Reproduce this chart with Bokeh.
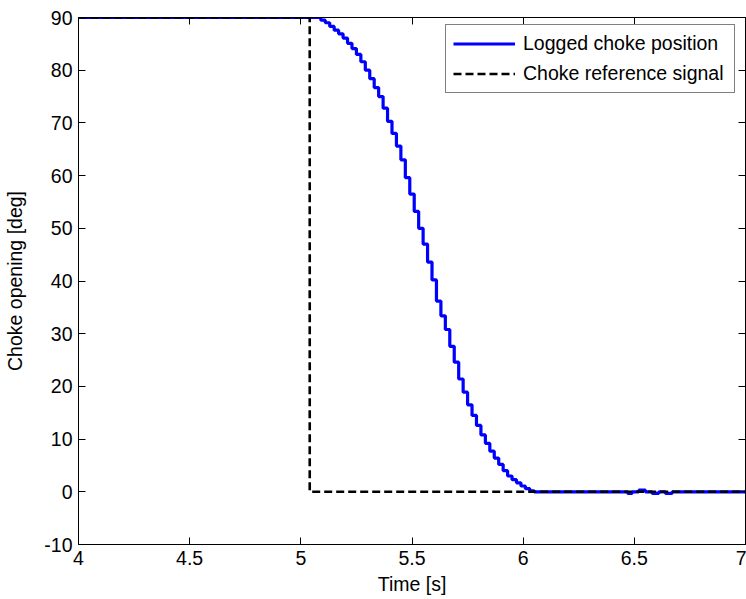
from bokeh.plotting import figure
from bokeh.models import Range1d, FixedTicker, LinearAxis, Legend, LegendItem
from bokeh.embed import file_html
from bokeh.resources import INLINE

# ---- data ----
ref_time = [4.0, 5.04, 5.04, 7.0]
ref_opening = [90, 90, 0, 0]

log_time = [4.00, 5.06, 5.08, 5.10, 5.12, 5.14, 5.16, 5.18, 5.20, 5.22, 5.24,
            5.26, 5.28, 5.30, 5.32, 5.34, 5.36, 5.38, 5.40, 5.42, 5.44,
            5.46, 5.48, 5.50, 5.52, 5.54, 5.56, 5.58, 5.60, 5.62, 5.64,
            5.66, 5.68, 5.70, 5.72, 5.74, 5.76, 5.78, 5.80, 5.82, 5.84,
            5.86, 5.88, 5.90, 5.92, 5.94, 5.96, 5.98, 6.00, 6.02, 6.04,
            6.06, 6.46, 6.48, 6.50, 6.54, 6.56, 6.60, 6.62, 6.66, 6.68, 7.00]
log_opening = [90.0, 90.0, 90.0, 89.5, 89.0, 88.3, 87.6, 86.9, 86.1, 85.1, 84.1,
               83.0, 81.6, 80.0, 78.4, 76.7, 75.0, 72.8, 70.3, 68.0, 65.6,
               63.0, 59.6, 56.5, 53.2, 50.0, 47.0, 43.6, 40.2, 36.2, 33.4,
               30.8, 27.6, 24.6, 21.4, 18.9, 16.5, 14.5, 12.6, 10.8, 9.2,
               7.7, 6.4, 5.2, 4.0, 3.0, 2.3, 1.7, 1.1, 0.6, 0.2,
               0.0, 0.0, -0.3, 0.0, 0.3, 0.0, -0.3, 0.0, -0.3, 0.0, 0.0]

x_ticks = [4, 4.5, 5, 5.5, 6, 6.5, 7]
x_tick_labels = ["4", "4.5", "5", "5.5", "6", "6.5", "7"]
y_ticks = [-10, 0, 10, 20, 30, 40, 50, 60, 70, 80, 90]
y_tick_labels = ["-10", "0", "10", "20", "30", "40", "50", "60", "70", "80", "90"]

series_names = ["Logged choke position", "Choke reference signal"]
x_label = "Time [s]"
y_label = "Choke opening [deg]"

FONT = "Liberation Sans"
FS = "19.5px"

p = figure(width=746, height=599, x_range=Range1d(4, 7), y_range=Range1d(-10, 90),
           output_backend="svg", toolbar_location=None,
           min_border_left=78, min_border_right=1, min_border_top=17, min_border_bottom=55)
p.background_fill_color = "white"
p.border_fill_color = "white"
p.outline_line_color = "black"
p.outline_line_width = 1
p.xgrid.visible = False
p.ygrid.visible = False

blue = p.step(log_time, log_opening, mode="center", line_color="#0000FF", line_width=3.2)
dash = p.line(ref_time, ref_opening, line_color="black", line_width=2.6, line_dash="8 4")


def style_axis(ax, ticks, labels):
    ax.ticker = FixedTicker(ticks=ticks)
    ax.major_label_overrides = {t: l for t, l in zip(ticks, labels)}
    ax.major_tick_in = 7
    ax.major_tick_out = 0
    ax.minor_tick_in = 0
    ax.minor_tick_out = 0
    ax.axis_line_color = "black"
    ax.major_tick_line_color = "black"
    ax.major_label_text_font = FONT
    ax.major_label_text_color = "black"
    ax.major_label_text_font_size = FS
    ax.major_label_standoff = 6
    ax.axis_label_text_font = FONT
    ax.axis_label_text_font_size = FS
    ax.axis_label_text_font_style = "normal"
    ax.axis_label_text_color = "black"


def mirror_axis(ticks):
    # tick marks only (as minor ticks, so no labels are drawn)
    ax = LinearAxis(ticker=FixedTicker(ticks=[], minor_ticks=ticks))
    ax.minor_tick_in = 7
    ax.minor_tick_out = 0
    ax.major_tick_in = 0
    ax.major_tick_out = 0
    ax.minor_tick_line_color = "black"
    ax.axis_line_color = "black"
    ax.major_label_standoff = 0
    return ax


style_axis(p.xaxis[0], x_ticks, x_tick_labels)
style_axis(p.yaxis[0], y_ticks, y_tick_labels)
p.xaxis[0].axis_label = x_label
p.yaxis[0].axis_label = y_label
p.xaxis[0].axis_label_standoff = 5
p.yaxis[0].axis_label_standoff = 15

p.add_layout(mirror_axis(x_ticks), "above")
p.add_layout(mirror_axis(y_ticks), "right")

legend = Legend(items=[LegendItem(label=series_names[0], renderers=[blue]),
                       LegendItem(label=series_names[1], renderers=[dash])],
                location=(367, 451))
legend.label_text_font = FONT
legend.label_text_font_size = FS
legend.label_text_color = "black"
legend.glyph_width = 62
legend.glyph_height = 21
legend.label_height = 21
legend.label_width = 204
legend.label_standoff = 8
legend.padding = 7
legend.spacing = 7
legend.border_line_color = "black"
legend.border_line_width = 1
legend.background_fill_color = "white"
legend.background_fill_alpha = 1.0
legend.margin = 0
p.add_layout(legend)

open("out.html", "w").write(file_html(p, INLINE))
